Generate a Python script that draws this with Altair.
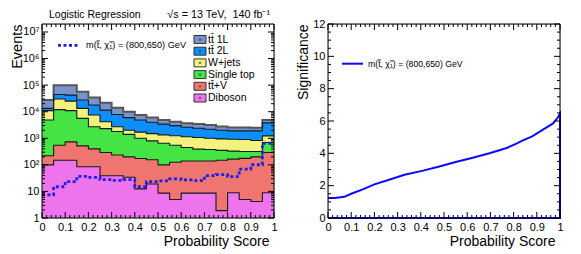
import altair as alt
import pandas as pd
import numpy as np

FONT = "Liberation Sans"

# ---------------- data ----------------
bin_lo = [0.00, 0.05, 0.10, 0.15, 0.20, 0.25, 0.30, 0.35, 0.40, 0.45,
          0.50, 0.55, 0.60, 0.65, 0.70, 0.75, 0.80, 0.85, 0.90, 0.95]
x_end = 1.0

procs = ["tt\u0304 1L", "tt\u0304 2L", "W+jets", "Single top", "tt\u0304+V", "Diboson"]
colors = ["#7a92cc", "#0b8ffd", "#f2f27c", "#45e445", "#ef7571", "#ee74ee"]

tt1L = [14200, 55300, 58000, 28500, 16200, 10200, 6100, 4000, 2600, 2000,
        1500, 1200, 1050, 1050, 960, 750, 670, 670, 600, 1100]
tt2L = [2300, 14700, 17000, 14200, 10300, 7300, 5200, 4000, 3200, 2500,
        2050, 1750, 1450, 1330, 1200, 1050, 980, 1000, 1080, 2570]
wjets = [6100, 18000, 14000, 7700, 4800, 1900, 900, 600, 700, 700,
         700, 700, 700, 680, 620, 600, 590, 580, 500, 540]
single_top = [4680, 11450, 10270, 5080, 2300, 2010, 1565, 1200, 825, 645,
              550, 425, 310, 250, 240, 200, 165, 145, 120, 400]
ttV = [120, 400, 580, 435, 315, 251, 196, 166, 162, 136,
       91, 120, 131, 131, 131, 148, 156, 170, 196, 281]
diboson = [100, 150, 150, 85, 85, 39, 39, 34, 12.5, 19,
           8.6, 5, 8.6, 8.6, 8.6, 1.9, 8.9, 5, 4.2, 8.9]
signal = [7.4, 15, 23.5, 37, 34, 28, 26, 28, 15, 23.5,
          25, 29.5, 27, 25.5, 39, 43, 36, 69, 101, 650]

sig_label = "m(t\u0303, \u03c7\u0303\u2081) = (800,650) GeV"

signif_x = [0.0, 0.03, 0.07, 0.10, 0.15, 0.20, 0.26, 0.33, 0.41, 0.48, 0.55,
            0.62, 0.70, 0.77, 0.81, 0.84, 0.88, 0.925, 0.97, 0.99, 1.0, 1.0, 0.0]
signif_y = [1.23, 1.23, 1.31, 1.50, 1.77, 2.08, 2.35, 2.67, 2.93, 3.19, 3.46,
            3.71, 4.02, 4.33, 4.58, 4.80, 5.05, 5.45, 5.85, 6.20, 6.45, 0.0, 0.0]

x_major = [0.0, 0.1, 0.2, 0.3, 0.4, 0.5, 0.6, 0.7, 0.8, 0.9, 1.0]
x_minor = [round(i * 0.02, 2) for i in range(51) if i % 5]
ylog_major = [1, 10, 100, 1e3, 1e4, 1e5, 1e6, 1e7]
ylog_minor = [m * 10 ** k for k in range(7) for m in range(2, 10)]
ysig_major = [0, 2, 4, 6, 8, 10, 12]
ysig_minor = [i * 0.5 for i in range(25) if i % 4]

W, H = 232, 194
MAJ, MIN = 6, 3

# ---------------- scales / axes ----------------
xscale = alt.Scale(domain=[0, 1], nice=False, zero=False)
ylog = alt.Scale(type="log", domain=[1, 2e7], nice=False)
ylin = alt.Scale(domain=[0, 12], nice=False, zero=False)

xaxis = alt.Axis(values=x_major, format="~g", ticks=False, domain=False, grid=False,
                 labelFlush=False, labelOverlap=False, labelFontSize=11, labelFont=FONT,
                 labelColor="black", labelPadding=3,
                 title="Probability Score", titleFont=FONT, titleFontSize=14,
                 titleFontWeight="normal", titleColor="black",
                 titleX=227, titleY=23, titleAlign="right", titleBaseline="middle")

sup = {2: "\u00b2", 3: "\u00b3", 4: "\u2074", 5: "\u2075", 6: "\u2076", 7: "\u2077"}
expr = "datum.value < 5 ? '1' : datum.value < 50 ? '10' : " + " : ".join(
    [f"datum.value < {5 * 10 ** k} ? '10{sup[k]}'" for k in range(2, 7)]) + " : '10" + sup[7] + "'"

ylogaxis = alt.Axis(values=ylog_major, labelExpr=expr, ticks=False, domain=False, grid=False,
                    labelOverlap=False, labelFontSize=11, labelFont=FONT, labelColor="black",
                    labelPadding=3, title="Events", titleFont=FONT, titleFontSize=14.5,
                    titleFontWeight="normal", titleColor="black", titleAngle=-90,
                    titleX=-25, titleY=0, titleAlign="right", titleBaseline="middle")

ylinaxis = alt.Axis(values=ysig_major, ticks=False, domain=False, grid=False,
                    labelOverlap=False, labelFontSize=11, labelFont=FONT, labelColor="black",
                    labelPadding=3, title="Significance", titleFont=FONT, titleFontSize=14,
                    titleFontWeight="normal", titleColor="black", titleAngle=-90,
                    titleX=-25, titleY=0, titleAlign="right", titleBaseline="middle")


def xticks(vals, length, yscale, yaxis):
    df = pd.DataFrame({"x": vals})
    out = []
    for y0, y1 in [(H, H - length), (0, length)]:
        out.append(alt.Chart(df).mark_rule(color="black", strokeWidth=1).encode(
            x=alt.X("x:Q", scale=xscale, axis=xaxis),
            y=alt.value(y0), y2=alt.value(y1)))
    return out


def yticks(vals, length, yscale, yaxis):
    df = pd.DataFrame({"y": vals})
    out = []
    for x0, x1 in [(0, length), (W, W - length)]:
        out.append(alt.Chart(df).mark_rule(color="black", strokeWidth=1).encode(
            y=alt.Y("y:Q", scale=yscale, axis=yaxis),
            x=alt.value(x0), x2=alt.value(x1)))
    return out


def frame():
    return alt.Chart(pd.DataFrame({"a": [0]})).mark_rect(
        fill=None, stroke="black", strokeWidth=1).encode(
        x=alt.value(0), x2=alt.value(W), y=alt.value(0), y2=alt.value(H))


def text_layer(txt, x, y, size, align="left"):
    return alt.Chart(pd.DataFrame({"t": [txt]})).mark_text(
        font=FONT, fontSize=size, align=align, baseline="middle", color="black").encode(
        text="t:N", x=alt.value(x), y=alt.value(y))


# ---------------- left panel ----------------
stack = np.cumsum(np.array([diboson, ttV, single_top, wjets, tt2L, tt1L], dtype=float), axis=0)
edges = bin_lo + [x_end]
left_layers = []
for k in range(5, -1, -1):
    vals = list(stack[k]) + [stack[k][-1]]
    df = pd.DataFrame({"x": edges, "y": vals})
    col = colors[5 - k]
    left_layers.append(alt.Chart(df).mark_area(interpolate="step-after", color=col, opacity=1).encode(
        x=alt.X("x:Q", scale=xscale, axis=xaxis),
        y=alt.Y("y:Q", scale=ylog, axis=ylogaxis),
        y2=alt.datum(1)))
for k in range(5, -1, -1):
    vals = list(stack[k]) + [stack[k][-1]]
    df = pd.DataFrame({"x": edges, "y": vals})
    sw, sc = (2, "#555555") if k == 5 else (1.1, "#1a1a1a")
    left_layers.append(alt.Chart(df).mark_line(interpolate="step-after", color=sc, strokeWidth=sw).encode(
        x=alt.X("x:Q", scale=xscale, axis=xaxis),
        y=alt.Y("y:Q", scale=ylog, axis=ylogaxis)))

sdf = pd.DataFrame({"x": edges, "y": signal + [signal[-1]]})
left_layers.append(alt.Chart(sdf).mark_line(interpolate="step-after", color="#1f1fe6",
                                            strokeWidth=2.8, strokeDash=[3, 2.5]).encode(
    x=alt.X("x:Q", scale=xscale, axis=xaxis),
    y=alt.Y("y:Q", scale=ylog, axis=ylogaxis)))

left_layers += xticks(x_major, MAJ, ylog, ylogaxis) + xticks(x_minor, MIN, ylog, ylogaxis)
left_layers += yticks(ylog_major, MAJ, ylog, ylogaxis) + yticks(ylog_minor, MIN, ylog, ylogaxis)

# legend (processes)
for i, (p, c) in enumerate(zip(procs, colors)):
    yc = 15.5 + 11.7 * i
    d = pd.DataFrame({"p": [p]})
    left_layers.append(alt.Chart(d).mark_rect(fill=c, stroke="#333333", strokeWidth=1).encode(
        x=alt.value(152), x2=alt.value(164), y=alt.value(yc - 4), y2=alt.value(yc + 4)))
    left_layers.append(alt.Chart(d).mark_point(shape="square", filled=True, size=5,
                                               color="#444444", opacity=0.7).encode(
        x=alt.value(158), y=alt.value(yc)))
    left_layers.append(text_layer(p, 166, yc, 10.5))

# legend (signal)
left_layers.append(alt.Chart(pd.DataFrame({"a": [0]})).mark_rule(
    color="#1f1fe6", strokeWidth=2.8, strokeDash=[3, 2.5]).encode(
    x=alt.value(16), x2=alt.value(38), y=alt.value(21.3)))
left_layers.append(text_layer(sig_label, 44, 21.3, 9.2))

# titles above
left_layers.append(text_layer("Logistic Regression", 7, -9, 10.5))
left_layers.append(text_layer("\u221as = 13 TeV,\u00a0\u00a0140 fb\u207b\u00b9", 228, -9, 10.8, align="right"))
left_layers.append(frame())

left = alt.layer(*left_layers).properties(width=W, height=H)

# ---------------- right panel ----------------
rdf = pd.DataFrame({"x": signif_x, "y": signif_y, "i": list(range(len(signif_x)))})
right_layers = [alt.Chart(rdf).mark_line(color="#0a0aff", strokeWidth=2).encode(
    x=alt.X("x:Q", scale=xscale, axis=xaxis),
    y=alt.Y("y:Q", scale=ylin, axis=ylinaxis),
    order="i:Q")]
right_layers += xticks(x_major, MAJ, ylin, ylinaxis) + xticks(x_minor, MIN, ylin, ylinaxis)
right_layers += yticks(ysig_major, MAJ, ylin, ylinaxis) + yticks(ysig_minor, MIN, ylin, ylinaxis)
right_layers.append(alt.Chart(pd.DataFrame({"a": [0]})).mark_rule(
    color="#0a0aff", strokeWidth=2).encode(x=alt.value(14), x2=alt.value(35), y=alt.value(39.7)))
right_layers.append(text_layer(sig_label, 40, 39.7, 8.7))
right_layers.append(frame())

right = alt.layer(*right_layers).properties(width=W, height=H)

chart = alt.hconcat(left, right, spacing=14).properties(padding=0).configure_view(
    stroke=None).configure(font=FONT, background="white")

chart.save("out.html", embed_options={"renderer": "svg", "actions": False})
